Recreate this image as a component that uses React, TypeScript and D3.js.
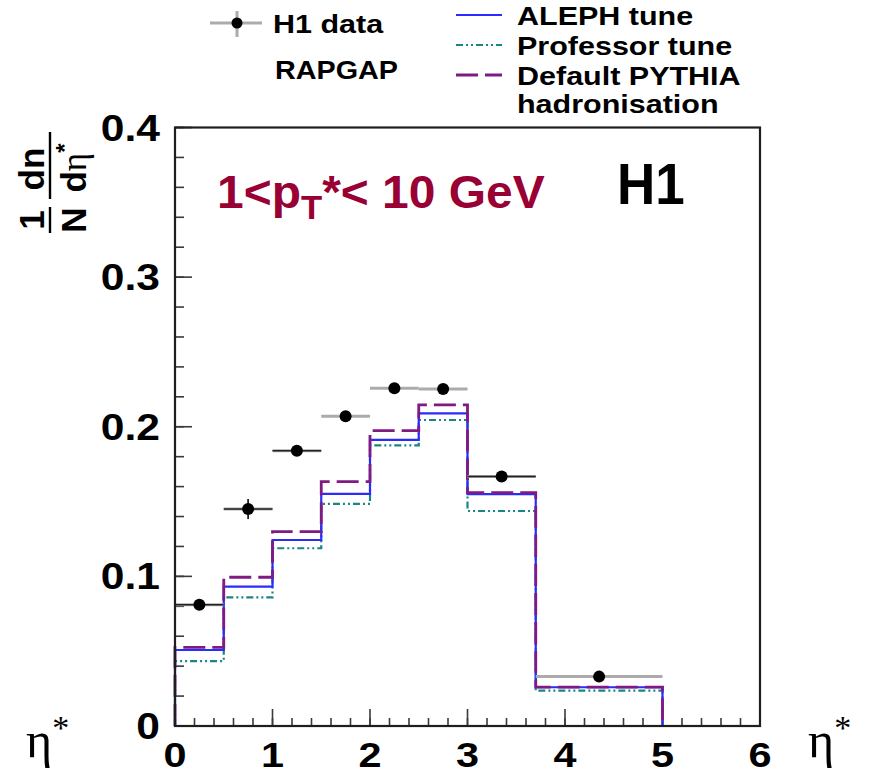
import React from 'react';
import * as d3 from 'd3';

// ---- data ----
const binEdges = [0, 0.5, 1, 1.5, 2, 2.5, 3, 3.7, 5];
const h1Data = [0.081, 0.145, 0.184, 0.207, 0.2257, 0.2253, 0.1667, 0.033];
const h1Err = [0.003, 0.0067, 0.003, 0.003, 0.003, 0.003, 0.003, 0.002];
const h1StatShown = [true, true, true, false, false, false, true, false];
const alephTune = [0.0508, 0.0931, 0.1243, 0.1551, 0.1912, 0.209, 0.155, 0.0259];
const professorTune = [0.0434, 0.086, 0.1188, 0.1484, 0.1876, 0.2045, 0.1437, 0.0236];
const defaultPythia = [0.0526, 0.0994, 0.1299, 0.1633, 0.1974, 0.2146, 0.156, 0.026];
const xTickLabels = ['0', '1', '2', '3', '4', '5', '6'];
const yTickLabels = ['0', '0.1', '0.2', '0.3', '0.4'];
const legendModels = ['ALEPH tune', 'Professor tune', 'Default PYTHIA', 'hadronisation'];

const W = 874;
const H = 775;
const FONT = "'Liberation Sans', Arial, Helvetica, sans-serif";
const SERIF = "'Liberation Serif', 'DejaVu Serif', serif";

const x = d3.scaleLinear().domain([0, 6]).range([175, 760]);
const y = d3.scaleLinear().domain([0, 0.4]).range([726, 127.5]);

function stepPath(vals: number[]) {
  const pts: [number, number][] = [[binEdges[0], 0]];
  vals.forEach((v, i) => {
    pts.push([binEdges[i], v]);
    pts.push([binEdges[i + 1], v]);
  });
  pts.push([binEdges[binEdges.length - 1], 0]);
  return d3.line<[number, number]>().x((d) => x(d[0])).y((d) => y(d[1]))(pts) || '';
}

function SText(props: any) {
  const { x: tx, y: ty, size, sx = 1, anchor = 'start', weight = 'bold', fill = '#000', family = FONT, children } = props;
  return (
    <text
      transform={`translate(${tx},${ty}) scale(${sx},1)`}
      fontSize={size}
      fontWeight={weight}
      fill={fill}
      fontFamily={family}
      textAnchor={anchor}
    >
      {children}
    </text>
  );
}

const BLUE = '#2b2bff';
const TEAL = '#1a8585';
const PURPLE = '#7f1a84';
const TEAL_DASH = '7,3,2,3,2,3';
const PURPLE_DASH = '22,7';

export default function App() {
  const yMinor = d3.range(0, 0.4001, 0.02);
  const xMinor = d3.range(0, 6.0001, 0.2);
  const xMajor = xTickLabels.map((_, i) => i);
  const yMajor = yTickLabels.map((_, i) => i * 0.1);

  return (
    <svg width={W} height={H} style={{ position: 'absolute', left: 0, top: 0, background: '#fff' }}>
      <rect x={0} y={0} width={W} height={H} fill="#fff" />

      {/* axis ticks */}
      <g stroke="#3a3a3a" strokeWidth={1.6}>
        {yMinor.map((v, i) => (
          <line key={'ym' + i} x1={x(0)} x2={x(0) + 9} y1={y(v)} y2={y(v)} />
        ))}
        {yMajor.map((v, i) => (
          <line key={'yM' + i} x1={x(0)} x2={x(0) + 17} y1={y(v)} y2={y(v)} />
        ))}
        {xMinor.map((v, i) => (
          <line key={'xm' + i} x1={x(v)} x2={x(v)} y1={y(0)} y2={y(0) - 8} />
        ))}
        {xMajor.map((v, i) => (
          <line key={'xM' + i} x1={x(v)} x2={x(v)} y1={y(0)} y2={y(0) - 17} />
        ))}
      </g>

      {/* model histograms */}
      <path d={stepPath(professorTune)} fill="none" stroke={TEAL} strokeWidth={2.2} strokeDasharray={TEAL_DASH} />
      <path d={stepPath(alephTune)} fill="none" stroke={BLUE} strokeWidth={2.2} />
      <path d={stepPath(defaultPythia)} fill="none" stroke={PURPLE} strokeWidth={2.8} strokeDasharray={PURPLE_DASH} />

      {/* data */}
      {h1Data.map((v, i) => {
        const lo = binEdges[i];
        const hi = binEdges[i + 1];
        const cx = x((lo + hi) / 2);
        return (
          <g key={'d' + i}>
            <line x1={x(lo)} x2={x(hi)} y1={y(v)} y2={y(v)} stroke="#ababab" strokeWidth={3} />
            {h1StatShown[i] && (
              <line x1={x(lo)} x2={x(hi)} y1={y(v)} y2={y(v)} stroke="#222" strokeWidth={1.5} />
            )}
            <line x1={cx} x2={cx} y1={y(v - h1Err[i])} y2={y(v + h1Err[i])} stroke="#222" strokeWidth={1.8} />
            <circle cx={cx} cy={y(v)} r={6} fill="#000" />
          </g>
        );
      })}

      {/* frame */}
      <rect x={x(0)} y={y(0.4)} width={x(6) - x(0)} height={y(0) - y(0.4)} fill="none" stroke="#1e1e1e" strokeWidth={2.2} />

      {/* y tick labels */}
      {yTickLabels.map((t, i) => (
        <SText key={'yl' + i} x={160} y={y(i * 0.1) + 13} size={37} sx={1.15} anchor="end">
          {t}
        </SText>
      ))}
      {/* x tick labels */}
      {xTickLabels.map((t, i) => (
        <SText key={'xl' + i} x={x(i)} y={767} size={36} sx={1.15} anchor="middle">
          {t}
        </SText>
      ))}

      {/* eta* axis labels */}
      <SText x={26} y={757} size={50} weight="normal" family={SERIF}>
        η<tspan dy={-18} fontSize={34}>*</tspan>
      </SText>
      <SText x={808} y={757} size={50} weight="normal" family={SERIF}>
        η<tspan dy={-18} fontSize={34}>*</tspan>
      </SText>

      {/* y axis title: 1/N dn/deta* */}
      <g transform="translate(50,183) rotate(-90)" fontFamily={FONT} fontWeight="bold" fontSize={35}>
        <text x={-37} y={-6} textAnchor="middle">1</text>
        <line x1={-50} x2={-24} y1={0} y2={0} stroke="#000" strokeWidth={2.4} />
        <text x={-37} y={36} textAnchor="middle">N</text>
        <text x={14} y={-6} textAnchor="middle">dn</text>
        <line x1={-16} x2={51} y1={0} y2={0} stroke="#000" strokeWidth={2.4} />
        <text x={15} y={36} textAnchor="middle">
          d<tspan fontFamily={SERIF} fontWeight="normal">η</tspan>
          <tspan dy={-13} fontSize={24}>*</tspan>
        </text>
      </g>

      {/* in-plot labels */}
      <SText x={217} y={208} size={47} sx={1.02} fill="#990033">
        1&lt;p<tspan dy={11} fontSize={34}>T</tspan>
        <tspan dy={-11}>*&lt; 10 GeV</tspan>
      </SText>
      <SText x={617} y={204} size={57} sx={0.93}>H1</SText>

      {/* legend */}
      <line x1={210} x2={262} y1={23} y2={23} stroke="#ababab" strokeWidth={3} />
      <line x1={237} x2={237} y1={11} y2={37} stroke="#ababab" strokeWidth={3} />
      <circle cx={237} cy={23} r={5.5} fill="#000" />
      <SText x={273} y={33} size={25} sx={1.22}>H1 data</SText>
      <SText x={275} y={79} size={25} sx={1.15}>RAPGAP</SText>

      <line x1={456} x2={502} y1={15} y2={15} stroke={BLUE} strokeWidth={2.2} />
      <line x1={456} x2={502} y1={45} y2={45} stroke={TEAL} strokeWidth={2.2} strokeDasharray={TEAL_DASH} />
      <line x1={456} x2={502} y1={75} y2={75} stroke={PURPLE} strokeWidth={2.8} strokeDasharray={PURPLE_DASH} />
      {legendModels.map((t, i) => (
        <SText key={'lg' + i} x={517} y={25 + i * 30 - (i === 3 ? 2 : 0)} size={25} sx={1.22}>
          {t}
        </SText>
      ))}
    </svg>
  );
}
